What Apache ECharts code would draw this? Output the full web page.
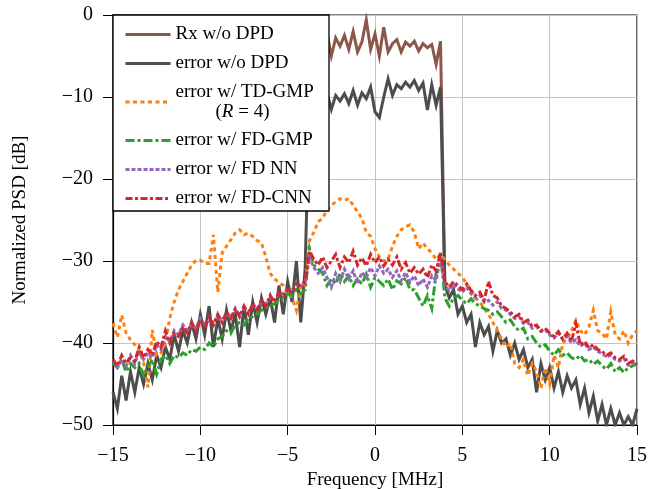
<!DOCTYPE html>
<html><head><meta charset="utf-8">
<script src="https://cdn.jsdelivr.net/npm/echarts@6/dist/echarts.min.js"></script>
<style>html,body{margin:0;padding:0;background:#fff}#c{width:656px;height:489px}</style>
</head><body><div id="c"></div>
<script>
// Frequency grid [MHz], step 0.25 from -15 to 15 (121 points)
const freq = [];
for (let k = 0; k <= 120; k++) freq.push(-15 + 0.25 * k);

const seriesNames = ['Rx w/o DPD', 'error w/o DPD', 'error w/ TD-GMP (R = 4)', 'error w/ FD-GMP', 'error w/ FD NN', 'error w/ FD-CNN'];
const xTicks = [-15, -10, -5, 0, 5, 10, 15];
const yTicks = [-50, -40, -30, -20, -10, 0];

// values grouped per MHz (f, f+0.25, f+0.5, f+0.75)
const rxNoDpd = [
  null,null,null,null, null,null,null,null, null,null,null,null, null,null,null,null,
  null,null,null,null, null,null,null,null, null,null,null,null, null,null,null,null,
  null,null,null,null, null,null,null,null, null,null,null,null,
  null, -3, -2.5, -4,
  -3, -2.2, -5, -2.8,
  -3.8, -2.5, -4.2, -2.0,
  -4.5, -3.3, -0.6, -4.2,
  -2.3, -5, -1.5, -4.5,
  -3.5, -3.0, -4.5, -3.3,
  -3.8, -3.2, -4.4, -3.5,
  -4, -3.6, -6, -3.2,
  -33, null,null,null, null,null,null,null, null,null,null,null, null,null,null,null,
  null,null,null,null, null,null,null,null, null,null,null,null, null,null,null,null,
  null,null,null,null, null,null,null,null, null,null,null,null,
  null
];
const errNoDpd = [
  -46, -48, -44, -47,
  -43.5, -46, -43, -45,
  -42.5, -44.5, -41.5, -43,
  -40.5, -42, -39, -41,
  -38.5, -40, -37.5, -39.5,
  -36.5, -39, -35.5, -40.5,
  -37, -39.5, -36, -38.5,
  -36.5, -40.5, -35.5, -39,
  -35, -37.5, -34.5, -36.5,
  -34.5, -37.5, -33, -36.5,
  -32.5, -35, -30, -37.5,
  -31, -10, -11, -9.5,
  -10.5, -9.5, -11.5, -9.8,
  -10.5, -9.6, -10.8, -9.2,
  -11, -9.5, -10.2, -8.8,
  -11.8, -12.5, -10, -7.8,
  -9.8, -8.5, -9, -8.2,
  -8.8, -8, -9.2, -8.3,
  -11.6, -8.5, -11, -8.8,
  -33, -34.5, -33.5, -36.5,
  -35.5, -37.5, -36.5, -40.5,
  -37.5, -39, -38, -41,
  -38.5, -40, -39.5, -41.5,
  -40, -42, -40.8, -43,
  -42, -46, -42.5, -44.5,
  -43, -45.5, -43.5, -46,
  -44, -45.5, -44.5, -47.5,
  -45.5, -48.5, -46.5, -49.5,
  -47.5, -50, -48, -50,
  -48.5, -50, -49, -50,
  -48
];
const tdGmp = [
  -37.6, -39.3, -36.6, -38.8,
  -39.6, -40.2, -40.9, -42.4,
  -45.4, -38.4, -41.5, -41.2,
  -40, -37, -35, -33.5,
  -32.5, -31.5, -30.5, -29.9,
  -29.9, -30.3, -30.3, -26.8,
  -33.8, -29, -28.2, -27.4,
  -26.6, -26.2, -26.8, -26.6,
  -27, -27.5, -27.8, -29.5,
  -31.5, -32.2, -32.6, -33,
  -34, -34.4, -36, -33,
  -33, -27.5, -26.5, -25.2,
  -24.8, -23.8, -23.2, -22.8,
  -22.4, -22.6, -22.4, -23.2,
  -24, -24.8, -26.5, -27,
  -28.5, -29.5, -30, -29.8,
  -28.2, -27, -26.2, -25.8,
  -25.6, -26.5, -28.5, -27.8,
  -28.5, -29, -29.8, -29.2,
  -29.8, -30.5, -31, -31.5,
  -32, -32.8, -33.5, -34.5,
  -35, -35.8, -36.5, -37.5,
  -38.5, -39.5, -40.5, -40,
  -42.5, -43, -42, -44,
  -42.5, -43.5, -45.5, -43,
  -45, -41.5, -43, -40,
  -39.5, -38.5, -37.2, -38.5,
  -39, -38, -36, -38.5,
  -38.8, -39.5, -36.2, -39,
  -39.5, -38.5, -40, -39,
  -38.5
];
const fdGmp = [
  -42.5, -43, -42, -43.5,
  -42.5, -43, -42.5, -44,
  -43, -42, -43.8, -42,
  -41.5, -42.5, -41.5, -41.8,
  -41.2, -41.5, -40.8, -41,
  -40.5, -40.8, -40, -40.5,
  -39.5, -39.2, -38.5, -38.8,
  -37.8, -37.5, -37.8, -37,
  -36.8, -36.5, -36, -35.8,
  -35.5, -35.2, -34.8, -34.5,
  -34, -34.2, -33.5, -34,
  -33.5, -28.5, -30.5, -31,
  -31.5, -33, -32.2, -32.8,
  -31.5, -32.5, -31.8, -33,
  -32.2, -32.8, -31.6, -33.2,
  -32, -32.5, -33, -32.2,
  -33.5, -32.4, -32.8, -32,
  -33.5, -33.5, -34.5, -35.5,
  -34.2, -35.8, -31.5, -29,
  -34.5, -35.5, -34.5, -34.2,
  -34.8, -35.2, -34.6, -35.2,
  -35.5, -35.8, -36, -36.5,
  -36.2, -36.8, -37.5, -37.2,
  -38, -38.5, -38.2, -39.5,
  -39.2, -40, -40.5, -40.2,
  -41, -41.5, -40.8, -41.5,
  -41.2, -41.8, -42, -41.5,
  -42.2, -42, -42.6, -42.2,
  -42.8, -43.2, -42.5, -43.5,
  -43, -43.6, -43, -42.8,
  -42.5
];
const fdNn = [
  -42.2, -43, -42, -42.8,
  -41.5, -42.5, -41, -42,
  -41.2, -41.8, -40.2, -40.8,
  -39.2, -39.8, -38.5, -39,
  -37.8, -38.5, -37.8, -38.2,
  -37, -37.8, -37.2, -37.5,
  -36.8, -37.2, -36.5, -36.8,
  -36, -36.5, -35.8, -36.2,
  -35.5, -35.8, -35, -35.2,
  -34.5, -34.8, -34, -34,
  -33.6, -33.5, -33, -32.8,
  -32.8, -29.5, -30.8, -31.5,
  -30.8, -32, -33.2, -31.5,
  -32.5, -31, -32.2, -31.2,
  -32.8, -31.4, -32, -30.8,
  -31.8, -30.6, -31.5, -31,
  -32, -31.2, -32.4, -31.4,
  -32.6, -31.8, -33, -32.2,
  -33.2, -31.8, -32.4, -29.5,
  -33, -33.6, -32.8, -33.4,
  -33.8, -33.2, -34, -34.5,
  -34.2, -35, -34.8, -35.4,
  -35, -35.8, -36, -36.5,
  -37, -36.8, -37.6, -37.5,
  -38.2, -38, -38.6, -38.4,
  -39, -39.4, -38.8, -39.6,
  -39.2, -40, -39.6, -40.4,
  -40, -40.8, -40.5, -41,
  -41.3, -41.7, -41.5, -42,
  -42.2, -41.9, -42.7, -42.4,
  -42.8
];
const fdCnn = [
  -42, -42.8, -41.5, -42.5,
  -41.8, -42.2, -40.5, -41.8,
  -40.8, -41.5, -39.8, -40.5,
  -38.5, -40, -38.8, -39.2,
  -38, -38.8, -37.5, -38.5,
  -37.2, -38, -36.8, -37.8,
  -36.5, -37.5, -36.2, -37,
  -35.8, -36.8, -35.5, -36.5,
  -35.2, -36, -34.8, -35.5,
  -34.2, -35, -33.8, -34.2,
  -33.5, -33.8, -32.8, -33,
  -32.5, -28.8, -29.8, -30.5,
  -29.5, -30.8, -30, -29.2,
  -30.8, -29.5, -30.2, -28.8,
  -30.5, -29.6, -30.6, -29.2,
  -30.2, -29.5, -30.6, -29.8,
  -30.5, -29.5, -31, -30.2,
  -31.5, -30.8, -31.6, -31,
  -32, -30.5, -31.2, -29,
  -32.5, -33.2, -32.5, -33,
  -33.5, -32.8, -33.6, -34.2,
  -33.8, -34.8, -32.5, -34.2,
  -34.5, -35.5, -35.8, -36.2,
  -36.8, -36.5, -37.5, -37.2,
  -38, -37.8, -38.5, -38.2,
  -38.8, -39.2, -38.6, -39.5,
  -38.8, -39.8, -37.6, -40.2,
  -39.8, -40.6, -40.2, -40.8,
  -41, -41.5, -41.2, -41.8,
  -42, -41.6, -42.5, -42.2,
  -42.6
];

const valueSets = [rxNoDpd, errNoDpd, tdGmp, fdGmp, fdNn, fdCnn];
const colors = ['#8c564b', '#4d4d4d', '#ff7f0e', '#2ca02c', '#9467bd', '#d62728'];
const dashes = ['solid', 'solid', [4, 3.5], [9, 3, 3, 3], [4, 2], [7, 2.5, 3, 2.5]];

const FONT = '"Liberation Serif", "Times New Roman", serif';
const minus = v => (v < 0 ? '\u2212' + Math.abs(v) : String(v));

const chart = echarts.init(document.getElementById('c'), null, { renderer: 'canvas' });
chart.setOption({
  animation: false,
  backgroundColor: '#fff',
  grid: { left: 113, right: 19, top: 15, bottom: 64, containLabel: false, outerBoundsMode: 'none',
          show: true, borderColor: '#000', borderWidth: 1.2, backgroundColor: 'transparent' },
  xAxis: {
    type: 'value', min: xTicks[0], max: xTicks[xTicks.length - 1], interval: 5,
    name: 'Frequency [MHz]', nameLocation: 'middle', nameGap: 46,
    nameTextStyle: { fontFamily: FONT, fontSize: 19, color: '#000' },
    axisLine: { show: true, onZero: false, lineStyle: { color: '#000', width: 1.2 } },
    axisTick: { show: true, inside: false, length: 10, lineStyle: { color: '#000', width: 1 } },
    axisLabel: { fontFamily: FONT, fontSize: 20, color: '#000', margin: 21, formatter: minus },
    splitLine: { show: true, lineStyle: { color: '#c4c4c4', width: 1 } }
  },
  yAxis: {
    type: 'value', min: yTicks[0], max: yTicks[yTicks.length - 1], interval: 10,
    name: 'Normalized PSD [dB]', nameLocation: 'middle', nameGap: 83, nameRotate: 90,
    nameTextStyle: { fontFamily: FONT, fontSize: 19, color: '#000' },
    axisLine: { show: true, onZero: false, lineStyle: { color: '#000', width: 1.2 } },
    axisTick: { show: true, inside: false, length: 10, lineStyle: { color: '#000', width: 1 } },
    axisLabel: { fontFamily: FONT, fontSize: 20, color: '#000', margin: 20, formatter: minus },
    splitLine: { show: true, lineStyle: { color: '#c4c4c4', width: 1 } }
  },
  legend: {
    orient: 'vertical', left: 113, top: 15, padding: [9, 10, 8, 11],
    itemWidth: 45, itemHeight: 14, itemGap: 8, z: 20,
    data: seriesNames,
    itemStyle: { opacity: 0, borderWidth: 0 },
    lineStyle: { width: 3 },
    textStyle: {
      fontFamily: FONT, fontSize: 19, color: '#000', lineHeight: 21,
      rich: {
        a: { fontFamily: FONT, fontSize: 19, color: '#000', lineHeight: 20 },
        p: { fontFamily: FONT, fontSize: 19, color: '#000', lineHeight: 20, padding: [0, 0, 0, 40] },
        i: { fontFamily: FONT, fontSize: 19, color: '#000', lineHeight: 20, fontStyle: 'italic' }
      }
    },
    formatter: name => name === seriesNames[2] ? '{a|error w/ TD-GMP}\n{p|(}{i|R}{a| = 4)}' : name
  },
  graphic: {
    elements: [{
      type: 'rect', z: 15, silent: true,
      shape: { x: 113, y: 15, width: 216, height: 196 },
      style: { fill: '#fff', stroke: '#000', lineWidth: 1.3 }
    }]
  },
  series: seriesNames.map((name, s) => ({
    name, type: 'line', symbol: 'none', z: 2 + s * 0.1,
    connectNulls: false,
    itemStyle: { color: colors[s] },
    lineStyle: { color: colors[s], width: 3, type: dashes[s], join: 'miter', miterLimit: 6 },
    data: freq.map((f, i) => [f, valueSets[s][i]])
  }))
});
</script>
</body></html>
